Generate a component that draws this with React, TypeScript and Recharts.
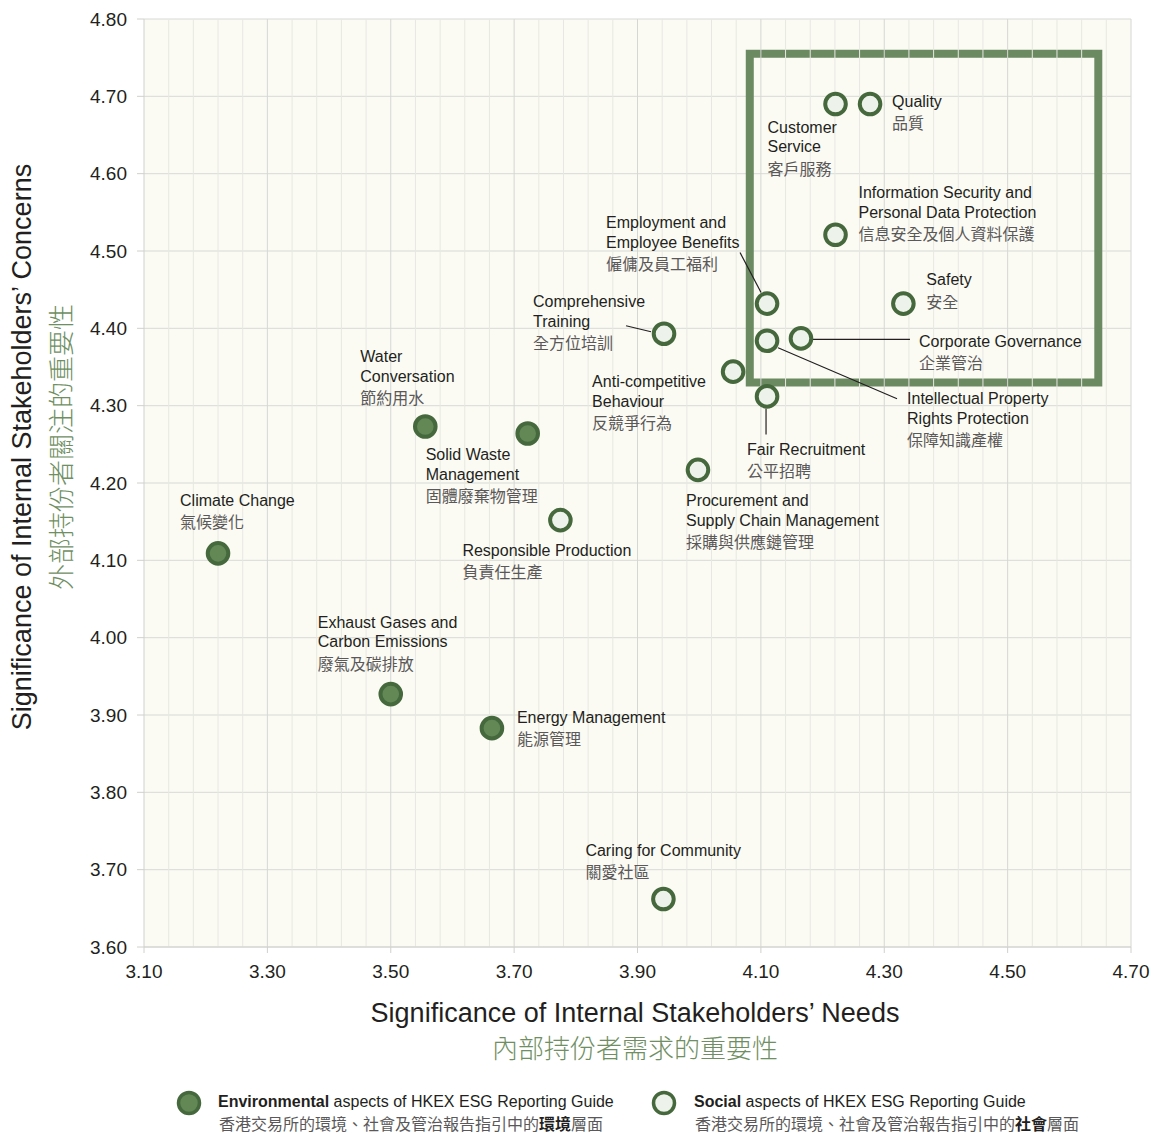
import {
  CartesianGrid,
  ReferenceArea,
  ReferenceLine,
  Scatter,
  ScatterChart,
  XAxis,
  YAxis,
} from "recharts";

interface Aspect {
  name: string;
  en: string[];
  zh: string;
  x: number;
  y: number;
}

// Environmental aspects (filled markers)
const environmental: Aspect[] = [
  { name: "climate", en: ["Climate Change"], zh: "氣候變化", x: 3.22, y: 4.109 },
  { name: "exhaust", en: ["Exhaust Gases and", "Carbon Emissions"], zh: "廢氣及碳排放", x: 3.5, y: 3.927 },
  { name: "energy", en: ["Energy Management"], zh: "能源管理", x: 3.664, y: 3.883 },
  { name: "water", en: ["Water", "Conversation"], zh: "節約用水", x: 3.556, y: 4.273 },
  { name: "waste", en: ["Solid Waste", "Management"], zh: "固體廢棄物管理", x: 3.722, y: 4.264 },
];

// Social aspects (hollow markers)
const social: Aspect[] = [
  { name: "production", en: ["Responsible Production"], zh: "負責任生產", x: 3.775, y: 4.152 },
  { name: "community", en: ["Caring for Community"], zh: "關愛社區", x: 3.942, y: 3.662 },
  { name: "procurement", en: ["Procurement and", "Supply Chain Management"], zh: "採購與供應鏈管理", x: 3.998, y: 4.217 },
  { name: "training", en: ["Comprehensive", "Training"], zh: "全方位培訓", x: 3.943, y: 4.393 },
  { name: "anticomp", en: ["Anti-competitive", "Behaviour"], zh: "反競爭行為", x: 4.055, y: 4.344 },
  { name: "recruit", en: ["Fair Recruitment"], zh: "公平招聘", x: 4.11, y: 4.312 },
  { name: "ip", en: ["Intellectual Property", "Rights Protection"], zh: "保障知識產權", x: 4.11, y: 4.384 },
  { name: "employment", en: ["Employment and", "Employee Benefits"], zh: "僱傭及員工福利", x: 4.11, y: 4.432 },
  { name: "governance", en: ["Corporate Governance"], zh: "企業管治", x: 4.165, y: 4.387 },
  { name: "safety", en: ["Safety"], zh: "安全", x: 4.331, y: 4.432 },
  { name: "infosec", en: ["Information Security and", "Personal Data Protection"], zh: "信息安全及個人資料保護", x: 4.221, y: 4.521 },
  { name: "customer", en: ["Customer", "Service"], zh: "客戶服務", x: 4.221, y: 4.69 },
  { name: "quality", en: ["Quality"], zh: "品質", x: 4.277, y: 4.69 },
];

const xTicks = [3.1, 3.3, 3.5, 3.7, 3.9, 4.1, 4.3, 4.5, 4.7];
const yTicks = [3.6, 3.7, 3.8, 3.9, 4.0, 4.1, 4.2, 4.3, 4.4, 4.5, 4.6, 4.7, 4.8];

// highlighted top-right quadrant
const focusBox = { x1: 4.082, x2: 4.647, y1: 4.33, y2: 4.755 };

// label placement relative to each marker (px)
const labelLayout: Record<string, { dx: number; dy: number; leader?: number[] }> = {
  climate: { dx: -38, dy: -53 },
  exhaust: { dx: -73, dy: -72 },
  energy: { dx: 25, dy: -11 },
  water: { dx: -65, dy: -70 },
  waste: { dx: -102, dy: 21 },
  production: { dx: -98, dy: 30 },
  community: { dx: -78, dy: -49 },
  procurement: { dx: -12, dy: 31 },
  training: { dx: -131, dy: -32, leader: [-38, -8, -13, -2] },
  anticomp: { dx: -141, dy: 10 },
  recruit: { dx: -20, dy: 53, leader: [-1, 12, -1, 38] },
  ip: { dx: 140, dy: 58, leader: [11, 7, 130, 58] },
  employment: { dx: -161, dy: -81, leader: [-27, -51, -6, -11] },
  governance: { dx: 118, dy: 3, leader: [12, 1, 109, 1] },
  safety: { dx: 23, dy: -24 },
  infosec: { dx: 23, dy: -42 },
  customer: { dx: -68, dy: 23 },
  quality: { dx: 22, dy: -3 },
};

const LATIN = "'Liberation Sans', Arial, Helvetica, sans-serif";
const CJK = "'Noto Sans CJK TC', 'Noto Sans CJK SC', sans-serif";
const DARK_GREEN = "#45693c";
const ENV_FILL = "#638856";
const SOC_FILL = "#edf3ea";
const TITLE_GREEN = "#6f8f63";
const TEXT = "#231f20";
const ZH_TEXT = "#5a5858";

const makeShape = (fill: string) => (props: any) => {
  const { cx, cy, payload } = props;
  const lay = labelLayout[payload.name];
  const lx = cx + lay.dx;
  const ly = cy + lay.dy;
  const zhY = ly + (payload.en.length - 1) * 19.5 + 21;
  return (
    <g>
      {lay.leader && (
        <line
          x1={cx + lay.leader[0]}
          y1={cy + lay.leader[1]}
          x2={cx + lay.leader[2]}
          y2={cy + lay.leader[3]}
          stroke={TEXT}
          strokeWidth={1.2}
        />
      )}
      <circle cx={cx} cy={cy} r={10.3} fill={fill} stroke={DARK_GREEN} strokeWidth={4} />
      {payload.en.map((line: string, i: number) => (
        <text
          key={i}
          x={lx}
          y={ly + i * 19.5}
          dominantBaseline="central"
          fontFamily={LATIN}
          fontSize={16}
          fill={TEXT}
        >
          {line}
        </text>
      ))}
      <text x={lx} y={zhY} dominantBaseline="central" fontFamily={CJK} fontSize={16} fill={ZH_TEXT}>
        {payload.zh}
      </text>
    </g>
  );
};

export default function App() {
  const minorX: number[] = [];
  for (let i = 1; i < 40; i++) minorX.push(Number((3.1 + i * 0.04).toFixed(2)));

  return (
    <div style={{ padding: "8px 0 0 8px", width: 1143 }}>
      <style>{`body{margin:0;overflow:hidden}`}</style>
      <div style={{ position: "relative", width: 1143, height: 1125, fontFamily: LATIN }}>
        <ScatterChart width={1143} height={1117} margin={{ top: 11, right: 20, bottom: 138, left: 0 }}>
          <CartesianGrid vertical={false} stroke="#d9d9d6" fill="#fbfbf4" />
          {minorX.map((v) => (
            <ReferenceLine
              key={v}
              x={v}
              stroke={Math.abs(((v - 3.1) / 0.2) - Math.round((v - 3.1) / 0.2)) < 0.01 ? "#d6d6d3" : "#e8e8e2"}
              strokeWidth={1}
            />
          ))}
          <ReferenceLine x={4.7} stroke="#d6d6d3" />
          <XAxis
            type="number"
            dataKey="x"
            domain={[3.1, 4.7]}
            ticks={xTicks}
            tickFormatter={(v: number) => v.toFixed(2)}
            height={40}
            tickSize={6}
            tickMargin={12}
            axisLine={{ stroke: "#d0d0cd" }}
            tickLine={{ stroke: "#d0d0cd" }}
            tick={{ fill: TEXT, fontSize: 19, fontFamily: LATIN }}
          />
          <YAxis
            type="number"
            dataKey="y"
            domain={[3.6, 4.8]}
            ticks={yTicks}
            tickFormatter={(v: number) => v.toFixed(2)}
            width={136}
            tickSize={7}
            tickMargin={10}
            axisLine={{ stroke: "#d0d0cd" }}
            tickLine={{ stroke: "#d0d0cd" }}
            tick={{ fill: TEXT, fontSize: 19, fontFamily: LATIN }}
          />
          <ReferenceArea
            x1={focusBox.x1}
            x2={focusBox.x2}
            y1={focusBox.y1}
            y2={focusBox.y2}
            fill="none"
            stroke="#6c8a62"
            strokeWidth={8}
          />
          <Scatter data={environmental} shape={makeShape(ENV_FILL)} isAnimationActive={false} />
          <Scatter data={social} shape={makeShape(SOC_FILL)} isAnimationActive={false} />
        </ScatterChart>

        {/* y axis titles */}
        <div
          style={{
            position: "absolute",
            left: 14 - 350,
            top: 439 - 16,
            width: 700,
            height: 32,
            lineHeight: "32px",
            textAlign: "center",
            transform: "rotate(-90deg)",
            fontSize: 27,
            color: TEXT,
            whiteSpace: "nowrap",
          }}
        >
          Significance of Internal Stakeholders’ Concerns
        </div>
        <div
          style={{
            position: "absolute",
            left: 52 - 350,
            top: 439 - 16,
            width: 700,
            height: 32,
            lineHeight: "32px",
            textAlign: "center",
            transform: "rotate(-90deg)",
            fontSize: 26,
            fontWeight: 300,
            fontFamily: CJK,
            color: TITLE_GREEN,
            whiteSpace: "nowrap",
          }}
        >
          外部持份者關注的重要性
        </div>

        {/* x axis titles */}
        <div
          style={{
            position: "absolute",
            left: 627 - 350,
            top: 1005 - 16,
            width: 700,
            height: 32,
            lineHeight: "32px",
            textAlign: "center",
            fontSize: 27,
            color: TEXT,
            whiteSpace: "nowrap",
          }}
        >
          Significance of Internal Stakeholders’ Needs
        </div>
        <div
          style={{
            position: "absolute",
            left: 627 - 350,
            top: 1039 - 16,
            width: 700,
            height: 32,
            lineHeight: "32px",
            textAlign: "center",
            fontSize: 26,
            fontWeight: 300,
            fontFamily: CJK,
            color: TITLE_GREEN,
            whiteSpace: "nowrap",
          }}
        >
          內部持份者需求的重要性
        </div>

        {/* legend */}
        {[
          { left: 181, fill: ENV_FILL, bold: "Environmental", zhA: "香港交易所的環境、社會及管治報告指引中的", zhB: "環境", textLeft: 210 },
          { left: 656, fill: SOC_FILL, bold: "Social", zhA: "香港交易所的環境、社會及管治報告指引中的", zhB: "社會", textLeft: 686 },
        ].map((item) => (
          <div key={item.bold}>
            <svg
              width={30}
              height={30}
              style={{ position: "absolute", left: item.left - 15, top: 1095 - 15 }}
            >
              <circle cx={15} cy={15} r={10.5} fill={item.fill} stroke={DARK_GREEN} strokeWidth={3.5} />
            </svg>
            <div
              style={{
                position: "absolute",
                left: item.textLeft,
                top: 1094 - 9,
                height: 18,
                lineHeight: "18px",
                fontSize: 16,
                color: TEXT,
                whiteSpace: "nowrap",
              }}
            >
              <b>{item.bold}</b> aspects of HKEX ESG Reporting Guide
            </div>
            <div
              style={{
                position: "absolute",
                left: item.textLeft + 1,
                top: 1115 - 9,
                height: 18,
                lineHeight: "18px",
                fontSize: 16,
                fontFamily: CJK,
                color: ZH_TEXT,
                whiteSpace: "nowrap",
              }}
            >
              {item.zhA}
              <b style={{ color: TEXT }}>{item.zhB}</b>層面
            </div>
          </div>
        ))}
      </div>
    </div>
  );
}
